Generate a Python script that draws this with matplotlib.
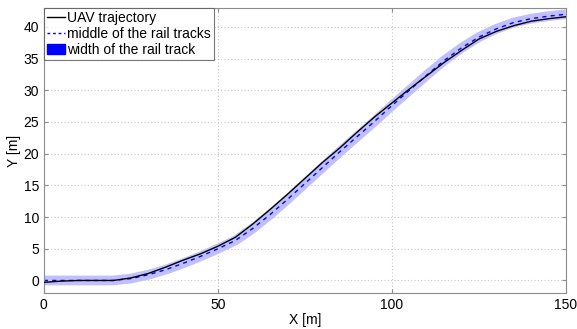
import matplotlib
matplotlib.use("Agg")
import matplotlib.pyplot as plt
from matplotlib.lines import Line2D
from matplotlib.patches import Patch

plt.rcParams["font.family"] = ["Liberation Sans", "DejaVu Sans"]

# positions along the track [m]
x_pts = [0, 5, 10, 15, 20, 25, 30, 35, 40, 45, 50, 55, 60, 65, 70, 75,
         80, 85, 90, 95, 100, 105, 110, 115, 120, 125, 130, 135, 140, 145, 150]
# middle of the rail tracks
rail_mid = [0, 0, 0, 0, 0, 0.3, 0.9, 1.7, 2.7, 3.8, 5.0, 6.3, 8.2, 10.4, 12.8, 15.3,
            17.8, 20.3, 22.7, 25.1, 27.6, 30.0, 32.4, 34.7, 36.7, 38.4, 39.7, 40.7,
            41.3, 41.7, 42.0]
# UAV trajectory
uav_y = [-0.3, -0.1, 0, 0, 0, 0.4, 1.1, 2.1, 3.2, 4.2, 5.4, 6.8, 8.9, 11.2, 13.6, 16.1,
         18.6, 20.9, 23.4, 25.8, 28.0, 30.2, 32.3, 34.4, 36.3, 38.1, 39.3, 40.2,
         40.9, 41.3, 41.6]

fig = plt.figure(figsize=(5.77, 3.29), dpi=100)
ax = fig.add_axes([0.076, 0.109, 0.905, 0.867])

ax.plot(x_pts, rail_mid, color="#c0c0ff", linewidth=7, solid_capstyle="butt", zorder=1)
ax.plot(x_pts, uav_y, color="black", linewidth=1.0, zorder=3)
ax.plot(x_pts, rail_mid, color="blue", linewidth=1.0, linestyle=(0, (3, 3)), zorder=2)

ax.set_xlim(0, 150)
ax.set_ylim(-2, 43)
ax.set_xticks([0, 50, 100, 150])
ax.set_yticks([0, 5, 10, 15, 20, 25, 30, 35, 40])
ax.grid(True, color="#c8c8c8", linestyle=(0, (1, 2)), linewidth=0.8)
ax.set_axisbelow(True)
for sp in ax.spines.values():
    sp.set_color("#8c8c8c")
ax.tick_params(colors="#8c8c8c", labelcolor="black", labelsize=10, direction="in",
               length=3, top=True, right=True)
ax.set_xlabel("X [m]", fontsize=10, labelpad=1)
ax.set_ylabel("Y [m]", fontsize=10, labelpad=2)

handles = [
    Line2D([0], [0], color="black", linewidth=1.0, label="UAV trajectory"),
    Line2D([0], [0], color="blue", linewidth=1.0, linestyle=(0, (2, 2)),
           label="middle of the rail tracks"),
    Patch(facecolor="blue", edgecolor="blue", label="width of the rail track"),
]
leg = ax.legend(handles=handles, loc="upper left", fontsize=10, frameon=True,
                fancybox=False, borderaxespad=0, handlelength=1.3,
                handletextpad=0.2, borderpad=0.2, labelspacing=0.15)
leg.get_frame().set_edgecolor("#555555")
leg.get_frame().set_linewidth(0.8)

fig.savefig("out.png", dpi=100)
